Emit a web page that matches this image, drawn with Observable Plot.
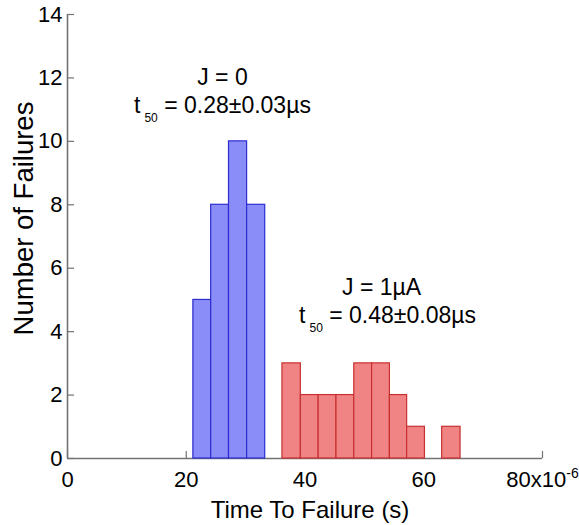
<!DOCTYPE html>
<html><head><meta charset="utf-8">
<script src="https://cdn.jsdelivr.net/npm/d3@7"></script>
<script src="https://cdn.jsdelivr.net/npm/@observablehq/plot@0.6"></script>
<style>body{margin:0;background:#fff;}</style>
</head><body><div id="chart"></div>
<script>
// Histogram bin edges (×10^-6 s) and counts
const blueEdges = [21.2, 24.2, 27.2, 30.25, 33.3];
const blueCounts = [5, 8, 10, 8];
const redEdges = [36.2, 39.3, 42.3, 45.3, 48.3, 51.3, 54.3, 57.2, 60.2, 63.1, 66.2];
const redCounts = [3, 2, 2, 2, 3, 3, 2, 1, 0, 1];
const xTicks = [0, 20, 40, 60, 80];
const yTicks = [0, 2, 4, 6, 8, 10, 12, 14];
// Annotations (data units)
const annX = [26.1, 26.1, 52.9, 53.9];
const annY = [11.79, 10.88, 5.17, 4.26];
const annMain = ["J = 0", "t", "J = 1µA", "t"];
const annSub = ["", "50", "", "50"];
const annRest = ["", " = 0.28±0.03µs", "", " = 0.48±0.08µs"];
const xLabel = "Time To Failure (s)";
const yLabel = "Number of Failures";
const xExpBase = "80x10";
const xExponent = "-6";

const W = 579, H = 525, ML = 67, MR = 37, MT = 14, MB = 67;
const font = "'Liberation Sans', Arial, Helvetica, sans-serif";
const axisColor = "#737373";

function bins(edges, counts) {
  return counts.map((c, i) => ({x1: edges[i], x2: edges[i + 1], y: c})).filter(d => d.y > 0);
}
const blueBars = bins(blueEdges, blueCounts);
const redBars = bins(redEdges, redCounts);
const annots = annX.map((x, i) => ({x, y: annY[i], main: annMain[i], sub: annSub[i], rest: annRest[i]}));

const plot = Plot.plot({
  width: W, height: H, marginLeft: ML, marginRight: MR, marginTop: MT, marginBottom: MB,
  style: {fontFamily: font, background: "white", color: "black", overflow: "visible"},
  x: {domain: [0, 80]},
  y: {domain: [0, 14]},
  marks: [
    Plot.tickY(yTicks, {y: d => d, stroke: axisColor, strokeWidth: 1.2, insetRight: W - ML - MR - 7}),
    Plot.tickX(xTicks, {x: d => d, stroke: axisColor, strokeWidth: 1.2, insetTop: H - MT - MB - 7}),
    Plot.ruleX([0], {stroke: axisColor, strokeWidth: 1.6}),
    Plot.ruleY([0], {stroke: axisColor, strokeWidth: 1.6}),
    Plot.rectY(blueBars, {x1: "x1", x2: "x2", y: "y", fill: "#8a8cf7", stroke: "#2c2cd0", strokeWidth: 1.2}),
    Plot.rectY(redBars, {x1: "x1", x2: "x2", y: "y", fill: "#f08484", stroke: "#c83030", strokeWidth: 1.2}),
    Plot.axisY({ticks: yTicks, tickSize: 0, tickPadding: 5, fontSize: 22, label: null}),
    Plot.axisX({ticks: xTicks, tickSize: 0, tickPadding: 13, fontSize: 22, label: null,
      tickFormat: d => d === 80 ? xExpBase : String(d)}),
    Plot.text([yLabel], {frameAnchor: "left", textAnchor: "middle", rotate: -90, dx: -35, dy: -18, fontSize: 27.5, lineAnchor: "bottom"}),
    Plot.text([xLabel], {frameAnchor: "bottom", textAnchor: "middle", dx: 5, dy: 59, fontSize: 24, lineAnchor: "bottom"}),
    Plot.text(annots, {x: "x", y: "y", text: d => d.main + d.sub + d.rest, fontSize: 23, lineAnchor: "bottom"})
  ]
});

const svg = d3.select(plot);
svg.selectAll("text").each(function () {
  const el = d3.select(this);
  const content = this.textContent;
  const a = annots.find(a => a.sub && a.main + a.sub + a.rest === content);
  if (a) {
    el.text(null);
    el.append("tspan").text(a.main);
    el.append("tspan").attr("dx", 4).attr("dy", 9).attr("font-size", 12).text(a.sub);
    el.append("tspan").attr("dy", -9).text(a.rest);
  } else if (content === xExpBase) {
    el.append("tspan").attr("dy", -9).attr("font-size", 14).text(xExponent);
  }
});
document.getElementById("chart").appendChild(plot);
</script>
</body></html>
